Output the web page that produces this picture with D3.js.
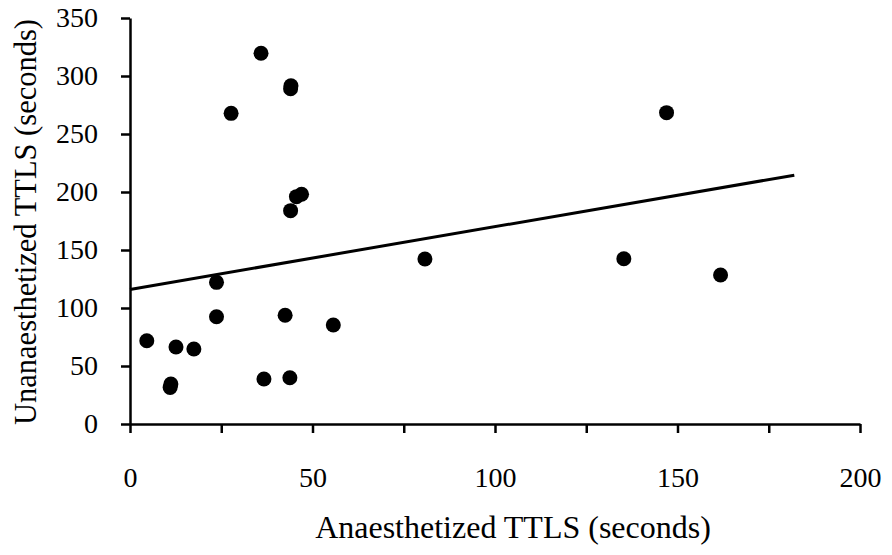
<!DOCTYPE html>
<html>
<head>
<meta charset="utf-8">
<script src="https://cdn.jsdelivr.net/npm/d3@7"></script>
<style>
  body { margin: 0; background: #fff; }
  text { font-family: "Liberation Serif", "Times New Roman", serif; fill: #000; }
</style>
</head>
<body>
<div id="chart"></div>
<script>

// anaesthetized vs unanaesthetized TTLS
var anaesthetized = [4.6, 11, 11.2, 12.6, 17.5, 23.7, 23.7, 27.7, 35.9, 36.7, 42.5,
  43.8, 44, 44, 44.1, 45.6, 47, 55.7, 80.8, 135.3, 147, 161.8];
var unanaesthetized = [71.8, 31.5, 34.5, 66.4, 64.7, 122.1, 92.5, 267.8, 319.6, 38.8, 93.7,
  39.9, 183.9, 289, 291.5, 196, 198, 85.3, 142.2, 142.5, 268.4, 128.4];

// trend line end points
var trendX = [0, 182];
var trendY = [116, 214.5];

var xTicks = [0, 25, 50, 75, 100, 125, 150, 175, 200];
var xLabels = [0, 50, 100, 150, 200];
var yTicks = [0, 50, 100, 150, 200, 250, 300, 350];

var svgWidth = 892;
var svgHeight = 555;

var margin = {
  top: 18,
  bottom: 131,
  right: 32,
  left: 130,
};

var width = svgWidth - margin.left - margin.right;
var height = svgHeight - margin.top - margin.bottom;

var svg = d3
  .select("#chart")
  .append("svg")
  .attr("width", svgWidth)
  .attr("height", svgHeight);

var chartGroup = svg
  .append("g")
  .attr("transform", `translate(${margin.left}, ${margin.top})`);

var x = d3.scaleLinear().domain([0, 200]).range([0, width]);
var y = d3.scaleLinear().domain([0, 350]).range([height, 0]);

// minor ticks without labels
chartGroup
  .append("g")
  .attr("class", "x-axis")
  .attr("transform", `translate(0, ${height})`)
  .call(d3.axisBottom(x).tickValues(xTicks).tickSize(9).tickSizeOuter(0).tickFormat(""));

var xLab = chartGroup
  .append("g")
  .attr("transform", `translate(0, ${height})`)
  .call(d3.axisBottom(x).tickValues(xLabels).tickSize(0).tickPadding(43).tickFormat(d3.format("d")));
xLab.select(".domain").remove();

chartGroup
  .append("g")
  .attr("class", "y-axis")
  .call(d3.axisLeft(y).tickValues(yTicks).tickSize(9).tickSizeOuter(0).tickPadding(23));

chartGroup.selectAll(".domain, .tick line")
  .attr("stroke", "#000")
  .attr("stroke-width", 2.5);

chartGroup.selectAll(".tick text")
  .style("font-family", "'Liberation Serif', 'Times New Roman', serif")
  .style("font-size", "28px")
  .attr("fill", "#000");

// trend line
var line = d3.line()
  .x((d, i) => x(trendX[i]))
  .y((d, i) => y(trendY[i]));

chartGroup
  .append("path")
  .datum(trendX)
  .attr("d", line)
  .attr("fill", "none")
  .attr("stroke", "#000")
  .attr("stroke-width", 3);

chartGroup
  .selectAll("circle")
  .data(anaesthetized)
  .join("circle")
  .attr("cx", (d) => x(d))
  .attr("cy", (d, i) => y(unanaesthetized[i]))
  .attr("r", 7.5)
  .attr("fill", "#000");

svg
  .append("text")
  .attr("x", 513)
  .attr("y", 538)
  .style("text-anchor", "middle")
  .style("font-size", "32px")
  .text("Anaesthetized TTLS (seconds)");

svg
  .append("text")
  .attr("transform", "rotate(-90)")
  .attr("x", -222)
  .attr("y", 36)
  .style("text-anchor", "middle")
  .style("font-size", "30.5px")
  .text("Unanaesthetized TTLS (seconds)");

</script>
</body>
</html>
